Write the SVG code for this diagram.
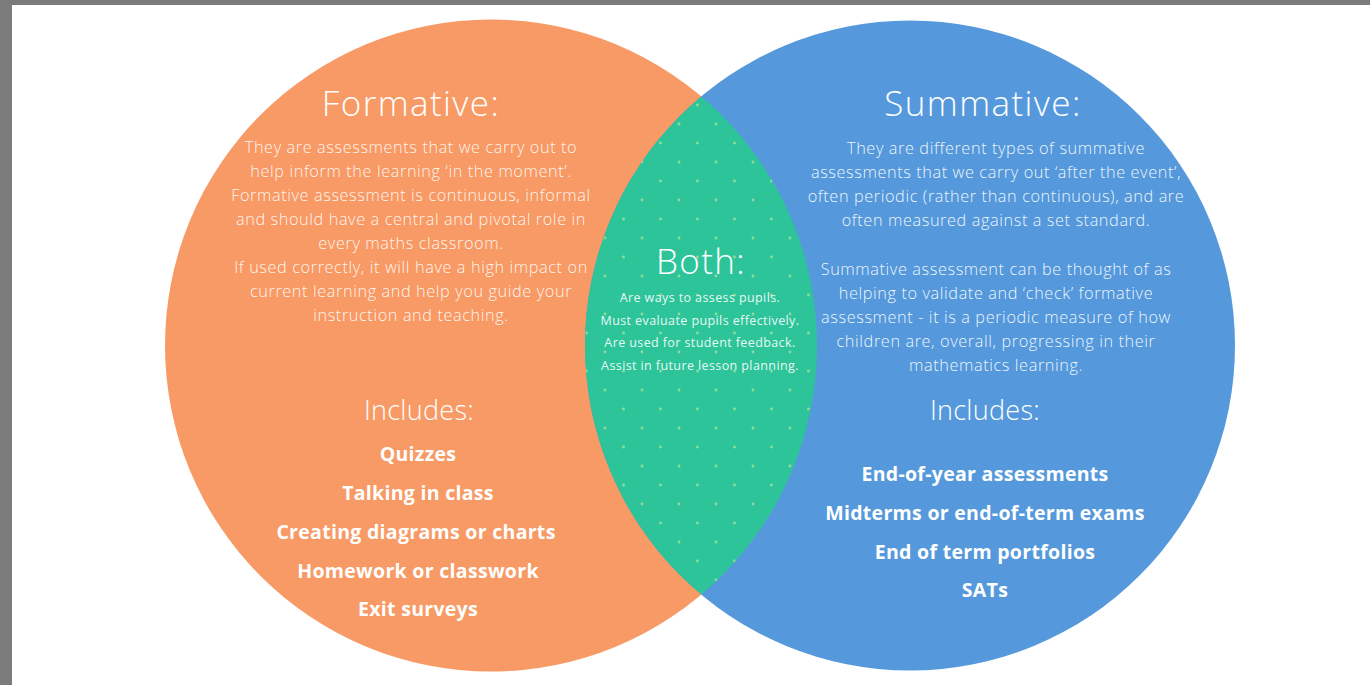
<svg xmlns="http://www.w3.org/2000/svg" width="1370" height="685" viewBox="0 0 1370 685">
<style>
.t{font-family:"Open Sans",Lato,"Liberation Sans",sans-serif;fill:#fff;text-anchor:middle}
.h{font-size:35px;font-weight:300;letter-spacing:1.4px}
.b{font-size:16.3px;font-weight:300;fill-opacity:0.92;letter-spacing:0.6px}
.s{font-size:12.5px;font-weight:400;fill-opacity:0.9;letter-spacing:0.4px}
.i{font-size:27px;font-weight:300;letter-spacing:0.3px}
.k{font-size:19.5px;font-weight:700;letter-spacing:0.3px}
</style>
<defs>
<clipPath id="clipL"><circle cx="491" cy="345.5" r="326"/></clipPath>
<pattern id="dots" x="0" y="0" width="37" height="38" patternUnits="userSpaceOnUse">
<circle cx="13" cy="10" r="1.4" fill="#8fdc9a"/>
<circle cx="31.5" cy="29" r="1.4" fill="#8fdc9a"/>
</pattern>
</defs>
<rect x="0" y="0" width="1370" height="685" fill="#7b7b7b"/>
<rect x="12" y="5" width="1358" height="680" fill="#ffffff"/>
<g id="formative">
<circle cx="491" cy="345.5" r="326" fill="#f89a65"/>
</g>
<g id="summative">
<circle cx="910" cy="345.5" r="325" fill="#5599dc"/>
</g>
<g id="both">
<circle cx="910" cy="345.5" r="325" fill="#2ec49a" clip-path="url(#clipL)"/>
<circle cx="910" cy="345.5" r="325" fill="url(#dots)" clip-path="url(#clipL)"/>
</g>
<g id="formative-text" class="t">
<text class="h" x="411" y="116">Formative:</text>
<text class="b" x="411" y="153">They are assessments that we carry out to</text>
<text class="b" x="411" y="177">help inform the learning ‘in the moment’.</text>
<text class="b" x="411" y="201">Formative assessment is continuous, informal</text>
<text class="b" x="411" y="225">and should have a central and pivotal role in</text>
<text class="b" x="411" y="249">every maths classroom.</text>
<text class="b" x="411" y="273">If used correctly, it will have a high impact on</text>
<text class="b" x="411" y="297">current learning and help you guide your</text>
<text class="b" x="411" y="321">instruction and teaching.</text>
<text class="i" x="419" y="420">Includes:</text>
<text class="k" x="418" y="461">Quizzes</text>
<text class="k" x="418" y="500">Talking in class</text>
<text class="k" x="416" y="539">Creating diagrams or charts</text>
<text class="k" x="418" y="578">Homework or classwork</text>
<text class="k" x="418" y="616">Exit surveys</text>
</g>
<g id="both-text" class="t">
<text class="h" x="701" y="274">Both:</text>
<text class="s" x="700" y="302">Are ways to assess pupils.</text>
<text class="s" x="700" y="325">Must evaluate pupils effectively.</text>
<text class="s" x="700" y="347">Are used for student feedback.</text>
<text class="s" x="700" y="370">Assist in future lesson planning.</text>
</g>
<g id="summative-text" class="t">
<text class="h" x="983" y="116">Summative:</text>
<text class="b" x="996" y="154">They are different types of summative</text>
<text class="b" x="996" y="178">assessments that we carry out ‘after the event’,</text>
<text class="b" x="996" y="202">often periodic (rather than continuous), and are</text>
<text class="b" x="996" y="226">often measured against a set standard.</text>
<text class="b" x="996" y="275">Summative assessment can be thought of as</text>
<text class="b" x="996" y="299">helping to validate and ‘check’ formative</text>
<text class="b" x="996" y="323">assessment - it is a periodic measure of how</text>
<text class="b" x="996" y="347">children are, overall, progressing in their</text>
<text class="b" x="996" y="371">mathematics learning.</text>
<text class="i" x="985" y="420">Includes:</text>
<text class="k" x="985" y="481">End-of-year assessments</text>
<text class="k" x="985" y="520">Midterms or end-of-term exams</text>
<text class="k" x="985" y="559">End of term portfolios</text>
<text class="k" x="985" y="597">SATs</text>
</g>
</svg>
